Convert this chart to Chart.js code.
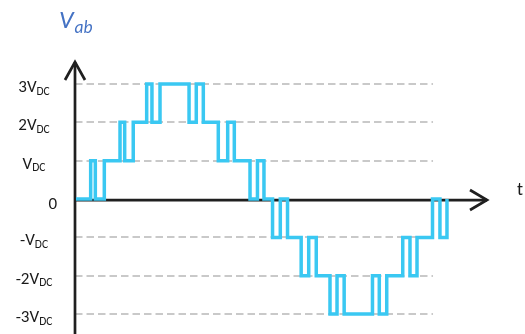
<!DOCTYPE html>
<html><head><meta charset="utf-8">
<script src="https://cdn.jsdelivr.net/npm/chart.js@4"></script>
<style>html,body{margin:0;padding:0;background:#fff;overflow:hidden}canvas{display:block}</style>
</head><body>
<canvas id="c" width="525" height="334"></canvas>
<script>
// switching instants (electrical degrees) and the output level reached at each instant
const switchTimes = [0, 14.2, 18.7, 27.4, 42.6, 47.1, 55.4, 68.4, 73.5, 81.3, 109.4, 116.4, 123.2, 137.7, 146.8, 153.2, 168.4, 175.6, 181.9,
  190.2, 197.7, 204.7, 217.9, 225.2, 232.5, 245.8, 252.6, 259.5, 286.9, 293.5, 300.7, 316.2, 323.2, 330.0, 345.0, 352.2, 359.0];
const levels = [0, 1, 0, 1, 2, 1, 2, 3, 2, 3, 2, 3, 2, 1, 2, 1, 0, 1, 0,
  -1, 0, -1, -2, -1, -2, -3, -2, -3, -2, -3, -2, -1, -2, -1, 0, -1, 0];
const tickValues = [3, 2, 1, 0, -1, -2, -3];
const tickMain = ['3V', '2V', 'V', '0', '-V', '-2V', '-3V'];
const tickSub = ['DC', 'DC', 'DC', '', 'DC', 'DC', 'DC'];
const yTitleMain = 'V';
const yTitleSub = 'ab';
const xTitle = 't';
const gridEndT = 345.5;

const FONT = 'Carlito, Calibri, Lato, sans-serif';

const axesPlugin = {
  id: 'axesPlugin',
  beforeDatasetsDraw(chart) {
    const ctx = chart.ctx, xs = chart.scales.x, ys = chart.scales.y, a = chart.chartArea;
    ctx.save();
    // dashed gridlines
    ctx.strokeStyle = '#c9c9c9';
    ctx.lineWidth = 2;
    ctx.setLineDash([7.5, 4]);
    const gx1 = xs.getPixelForValue(gridEndT);
    tickValues.forEach(v => {
      if (v === 0) return;
      const y = Math.round(ys.getPixelForValue(v));
      ctx.beginPath();
      ctx.moveTo(a.left - 1, y);
      ctx.lineTo(gx1, y);
      ctx.stroke();
    });
    ctx.setLineDash([]);
    // axes
    ctx.strokeStyle = '#1f1f1f';
    ctx.lineWidth = 2.7;
    ctx.lineJoin = 'miter';
    const y0 = ys.getPixelForValue(0) + 1;
    const x0 = a.left - 1;
    ctx.beginPath();
    ctx.moveTo(x0, y0);
    ctx.lineTo(a.right - 1, y0);
    ctx.stroke();
    ctx.beginPath();
    ctx.moveTo(a.right - 18, y0 - 10);
    ctx.lineTo(a.right - 1, y0);
    ctx.lineTo(a.right - 18, y0 + 10);
    ctx.stroke();
    ctx.beginPath();
    ctx.moveTo(x0, a.bottom);
    ctx.lineTo(x0, a.top + 1);
    ctx.stroke();
    ctx.beginPath();
    ctx.moveTo(x0 - 10, a.top + 19);
    ctx.lineTo(x0, a.top + 1);
    ctx.lineTo(x0 + 10, a.top + 19);
    ctx.stroke();
    // tick labels
    ctx.fillStyle = '#1a1a1a';
    ctx.textBaseline = 'alphabetic';
    tickValues.forEach((v, i) => {
      const y = ys.getPixelForValue(v);
      const main = tickMain[i], sub = tickSub[i];
      ctx.font = '17px ' + FONT;
      const wm = ctx.measureText(main).width;
      ctx.font = '11.5px ' + FONT;
      const ws = ctx.measureText(sub).width;
      let x;
      if (sub) x = 34 - (wm + ws) / 2; else x = 57 - wm;
      const base = y + (sub ? 8 : 10);
      ctx.textAlign = 'left';
      ctx.font = '17px ' + FONT;
      ctx.fillText(main, x, base);
      if (sub) {
        ctx.font = '11.5px ' + FONT;
        ctx.fillText(sub, x + wm, base + 2.5);
      }
    });
    // titles
    ctx.fillStyle = '#4472C4';
    ctx.font = 'italic 25.5px ' + FONT;
    ctx.textAlign = 'left';
    ctx.fillText(yTitleMain, 59, 28);
    const wv = ctx.measureText(yTitleMain).width;
    ctx.font = 'italic 17.5px ' + FONT;
    ctx.fillText(yTitleSub, 60 + wv, 33);
    ctx.fillStyle = '#1a1a1a';
    ctx.font = '18px ' + FONT;
    ctx.fillText(xTitle, 517, 195);
    ctx.restore();
  }
};

new Chart(document.getElementById('c'), {
  type: 'line',
  data: {
    datasets: [{
      data: switchTimes.map((t, i) => ({ x: t, y: levels[i] })),
      borderColor: '#3AC8F2',
      borderWidth: 3.5,
      pointRadius: 0,
      stepped: 'before',
      fill: false,
      tension: 0,
      clip: false
    }]
  },
  options: {
    responsive: false,
    animation: false,
    devicePixelRatio: 1,
    layout: { padding: { left: 76, right: 37, top: 61, bottom: 0 } },
    scales: {
      x: { type: 'linear', display: false, min: 0, max: 398.7 },
      y: { type: 'linear', display: false, min: -3.52, max: 3.6 }
    },
    plugins: { legend: { display: false }, tooltip: { enabled: false } }
  },
  plugins: [axesPlugin]
});
</script>
</body></html>
